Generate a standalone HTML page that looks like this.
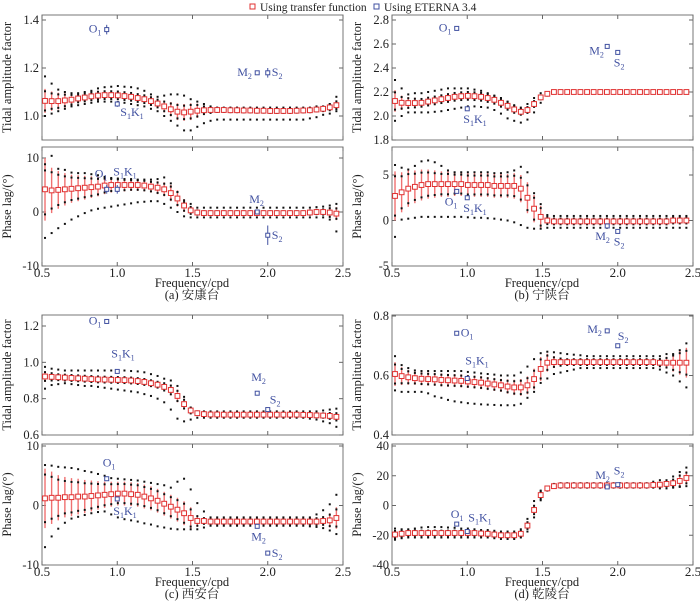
<!DOCTYPE html>
<html><head><meta charset="utf-8"><style>
body{margin:0;background:#fff}
svg{display:block;font-family:"Liberation Serif","Noto Serif CJK SC",serif}
</style></head><body>
<svg id="fig" width="700" height="605" viewBox="0 0 700 605" xmlns="http://www.w3.org/2000/svg">
<g>
<rect x="250" y="4" width="5" height="5" fill="none" stroke="#e03030" stroke-width="1"/>
<text x="260" y="11" font-size="11.5" fill="#222">Using transfer function</text>
<rect x="374" y="4" width="5" height="5" fill="none" stroke="#4050a0" stroke-width="1"/>
<text x="384" y="11" font-size="11.5" fill="#222">Using ETERNA 3.4</text>
</g>
</svg>
<script>
// frequency grid (cpd)
const freqs = [];
for (let i = 0; i < 45; i++) freqs.push(+(0.52 + 0.044 * i).toFixed(3));
const xTicks = [0.5, 1.0, 1.5, 2.0, 2.5];

// ---- (a) Ankang ----
const aAmpC = [1.063,1.062,1.062,1.065,1.068,1.073,1.077,1.082,1.085,1.087,1.087,1.086,1.083,1.080,1.075,1.070,1.062,1.052,1.040,1.028,1.018,1.015,1.018,1.022,1.024,1.025,1.025,1.025,1.024,1.024,1.023,1.023,1.022,1.022,1.021,1.021,1.021,1.021,1.022,1.023,1.024,1.027,1.030,1.036,1.045];
const aAmpE = [0.05,0.04,0.035,0.03,0.025,0.02,0.02,0.02,0.02,0.02,0.02,0.02,0.02,0.02,0.02,0.02,0.02,0.02,0.025,0.03,0.035,0.035,0.035,0.03,0.02,0.015,0.01,0.01,0.01,0.01,0.01,0.01,0.01,0.01,0.01,0.01,0.01,0.01,0.01,0.01,0.01,0.01,0.012,0.015,0.02];
const aAmpHi = [1.165,1.135,1.11,1.10,1.095,1.095,1.10,1.105,1.115,1.12,1.122,1.125,1.122,1.12,1.115,1.105,1.09,1.08,1.085,1.09,1.09,1.085,1.07,1.06,1.05,1.04,1.035,1.035,1.035,1.035,1.035,1.035,1.035,1.035,1.035,1.035,1.035,1.035,1.035,1.035,1.035,1.04,1.04,1.05,1.08];
const aAmpLo = [1.0,1.01,1.02,1.03,1.04,1.045,1.05,1.055,1.06,1.06,1.06,1.058,1.055,1.05,1.045,1.04,1.03,1.02,1.0,0.98,0.96,0.94,0.94,0.955,0.97,0.98,0.985,0.985,0.985,0.985,0.985,0.985,0.985,0.985,0.985,0.985,0.985,0.985,0.985,0.985,0.99,0.995,1.005,1.01,1.02];
const aPhC = [4.2,4.0,4.1,4.2,4.3,4.4,4.5,4.6,4.7,4.9,5.0,5.0,5.0,5.0,5.0,4.9,4.7,4.5,4.2,3.5,2.5,1.2,0.3,-0.1,-0.2,-0.2,-0.2,-0.2,-0.2,-0.2,-0.2,-0.2,-0.2,-0.2,-0.2,-0.2,-0.2,-0.2,-0.2,-0.2,-0.1,0.0,0.0,-0.1,-0.3];
const aPhE = [5.8,4.2,3.5,3.0,2.6,2.4,2.2,2.0,1.8,1.6,1.4,1.3,1.2,1.1,1.1,1.1,1.1,1.2,1.3,1.5,1.5,1.2,0.8,0.5,0.4,0.4,0.4,0.4,0.4,0.4,0.4,0.4,0.4,0.4,0.4,0.4,0.4,0.4,0.4,0.4,0.5,0.5,0.6,1.0,1.2];
const aPhHi = [7.7,10.4,8.0,7.8,7.3,7.2,7.2,7.0,6.8,6.5,6.3,6.2,6.1,6.1,6.0,6.0,6.0,6.1,6.4,5.3,3.7,1.8,1.5,0.8,0.8,0.8,0.8,0.8,0.8,0.8,0.8,0.8,0.8,0.8,0.8,0.8,0.8,0.8,0.8,0.8,0.8,0.9,1.0,1.2,1.5];
const aPhLo = [-4.8,-3.9,-3.0,-2.2,-1.4,-0.8,-0.2,0.3,0.6,0.8,1.0,1.2,1.4,1.6,1.8,1.9,2.0,2.0,1.5,0.8,0.0,-0.8,-1.0,-1.0,-1.0,-1.0,-1.0,-1.0,-1.0,-1.0,-1.0,-1.0,-1.0,-1.0,-1.0,-1.0,-1.0,-1.0,-1.0,-1.0,-1.0,-1.0,-1.0,-1.4,-3.6];

// ---- (b) Ningshan ----
const bAmpC = [2.125,2.11,2.108,2.108,2.11,2.12,2.13,2.14,2.15,2.16,2.165,2.168,2.165,2.16,2.15,2.135,2.11,2.085,2.055,2.035,2.05,2.1,2.155,2.185,2.2,2.2,2.2,2.2,2.2,2.2,2.2,2.2,2.2,2.2,2.2,2.2,2.2,2.2,2.2,2.2,2.2,2.2,2.2,2.2,2.2];
const bAmpE = [0.09,0.06,0.05,0.045,0.04,0.04,0.04,0.04,0.04,0.04,0.04,0.04,0.04,0.04,0.04,0.04,0.04,0.04,0.035,0.03,0.03,0.03,0.02,0.01,0.005,0,0,0,0,0,0,0,0,0,0,0,0,0,0,0,0,0,0,0,0];
const bAmpHi = [2.3,2.23,2.18,2.19,2.19,2.2,2.21,2.22,2.23,2.23,2.23,2.23,2.22,2.21,2.19,2.17,2.15,2.12,2.09,2.07,2.1,2.15,2.19,2.2,2.21,2.2,2.2,2.2,2.2,2.2,2.2,2.2,2.2,2.2,2.2,2.2,2.2,2.2,2.2,2.2,2.2,2.2,2.2,2.2,2.2];
const bAmpLo = [1.96,2.0,2.03,2.03,2.03,2.03,2.035,2.04,2.05,2.06,2.07,2.08,2.08,2.075,2.07,2.05,2.02,1.98,1.96,1.945,1.97,2.03,2.11,2.17,2.19,2.2,2.2,2.2,2.2,2.2,2.2,2.2,2.2,2.2,2.2,2.2,2.2,2.2,2.2,2.2,2.2,2.2,2.2,2.2,2.2];
const bPhC = [2.7,3.1,3.5,3.7,3.9,4.0,4.0,4.0,4.0,4.0,4.0,3.9,3.9,3.9,3.9,3.8,3.8,3.8,3.8,3.5,2.5,1.3,0.4,0.0,-0.1,-0.1,-0.1,-0.1,-0.1,-0.1,-0.1,-0.1,-0.1,-0.1,-0.1,-0.1,-0.1,-0.1,-0.1,-0.1,-0.1,-0.1,0.0,0.0,0.0];
const bPhE = [2.7,2.2,2.0,1.8,1.7,1.6,1.5,1.4,1.4,1.3,1.3,1.3,1.3,1.3,1.3,1.3,1.3,1.3,1.4,1.5,1.7,1.5,1.2,0.5,0.4,0.4,0.4,0.4,0.4,0.4,0.4,0.4,0.4,0.4,0.4,0.4,0.4,0.4,0.4,0.4,0.4,0.4,0.4,0.4,0.4];
const bPhHi = [6.1,5.8,5.6,6.0,6.5,6.6,6.4,6.0,5.5,5.3,5.3,5.3,5.3,5.3,5.3,5.2,5.2,5.3,5.5,5.9,5.3,3.0,1.8,0.6,0.5,0.5,0.5,0.5,0.5,0.5,0.5,0.5,0.5,0.5,0.5,0.5,0.5,0.5,0.5,0.5,0.5,0.5,0.5,0.5,0.5];
const bPhLo = [-1.8,0.1,0.2,0.3,0.4,0.4,0.4,0.4,0.4,0.4,0.4,0.35,0.3,0.3,0.25,0.2,0.1,0.0,-0.2,-0.5,-0.8,-0.9,-0.9,-0.8,-0.8,-0.8,-0.8,-0.8,-0.8,-0.8,-0.8,-0.8,-0.8,-0.8,-0.8,-0.8,-0.8,-0.8,-0.8,-0.8,-0.8,-0.8,-0.8,-0.8,-0.8];

// ---- (c) Xi'an ----
const cAmpC = [0.922,0.92,0.918,0.916,0.914,0.912,0.91,0.908,0.906,0.905,0.904,0.903,0.902,0.9,0.897,0.892,0.885,0.877,0.865,0.848,0.815,0.77,0.735,0.72,0.715,0.713,0.713,0.712,0.712,0.712,0.712,0.712,0.712,0.712,0.712,0.712,0.712,0.712,0.712,0.711,0.71,0.708,0.707,0.705,0.7];
const cAmpE = [0.03,0.025,0.02,0.02,0.02,0.02,0.02,0.02,0.02,0.02,0.02,0.02,0.02,0.02,0.02,0.02,0.02,0.02,0.025,0.03,0.035,0.03,0.02,0.01,0.01,0.01,0.01,0.01,0.01,0.01,0.01,0.01,0.01,0.01,0.01,0.01,0.01,0.01,0.01,0.01,0.01,0.012,0.015,0.02,0.025];
const cAmpHi = [0.975,0.965,0.96,0.955,0.955,0.955,0.955,0.955,0.955,0.955,0.955,0.955,0.955,0.952,0.95,0.945,0.935,0.925,0.91,0.9,0.87,0.81,0.75,0.73,0.73,0.73,0.73,0.73,0.73,0.73,0.73,0.73,0.73,0.73,0.73,0.73,0.73,0.73,0.73,0.73,0.73,0.73,0.735,0.74,0.745];
const cAmpLo = [0.855,0.875,0.88,0.885,0.88,0.875,0.87,0.87,0.865,0.86,0.855,0.85,0.845,0.84,0.835,0.825,0.815,0.8,0.78,0.74,0.69,0.675,0.685,0.695,0.695,0.695,0.695,0.695,0.695,0.695,0.695,0.695,0.695,0.695,0.695,0.695,0.695,0.695,0.695,0.695,0.69,0.685,0.675,0.665,0.645];
const cPhC = [1.2,1.3,1.3,1.4,1.4,1.5,1.5,1.6,1.7,1.8,1.9,2.0,2.0,1.9,1.8,1.5,1.2,0.8,0.3,-0.2,-0.7,-1.3,-2.1,-2.6,-2.6,-2.7,-2.7,-2.7,-2.7,-2.7,-2.7,-2.7,-2.7,-2.7,-2.7,-2.7,-2.7,-2.7,-2.7,-2.7,-2.7,-2.7,-2.6,-2.5,-2.1];
const cPhE = [5.0,4.4,3.8,3.4,3.2,3.0,2.8,2.6,2.4,2.2,2.1,2.0,2.0,2.0,2.0,2.0,2.0,2.0,2.0,2.0,2.0,2.0,1.8,1.0,0.6,0.5,0.5,0.5,0.5,0.5,0.5,0.5,0.5,0.5,0.5,0.5,0.5,0.5,0.5,0.5,0.6,0.7,0.8,1.2,1.8];
const cPhHi = [6.8,6.7,6.5,6.4,6.3,6.1,5.8,5.6,5.3,5.0,4.6,4.5,4.4,4.3,4.2,4.0,3.8,3.6,3.4,3.0,4.0,4.5,2.7,0.4,-1.0,-2.0,-2.0,-2.0,-2.0,-2.0,-2.0,-2.0,-2.0,-2.0,-2.0,-2.0,-2.0,-2.0,-2.0,-2.0,-2.0,-1.5,-0.8,0.2,1.8];
const cPhLo = [-7.0,-5.2,-3.9,-2.9,-2.2,-1.9,-1.6,-1.3,-1.1,-1.0,-1.5,-2.0,-2.3,-2.5,-2.7,-3.0,-3.2,-3.5,-3.7,-3.9,-4.0,-4.0,-4.0,-4.0,-3.7,-3.4,-3.4,-3.4,-3.4,-3.4,-3.4,-3.4,-3.4,-3.4,-3.4,-3.4,-3.4,-3.4,-3.4,-3.4,-3.5,-3.6,-3.8,-4.2,-4.8];

// ---- (d) Qianling ----
const dAmpC = [0.605,0.598,0.594,0.591,0.589,0.588,0.587,0.585,0.584,0.583,0.582,0.580,0.578,0.576,0.573,0.570,0.567,0.563,0.560,0.560,0.567,0.588,0.622,0.643,0.645,0.645,0.645,0.645,0.645,0.645,0.645,0.645,0.645,0.645,0.645,0.645,0.645,0.645,0.645,0.645,0.643,0.643,0.643,0.643,0.643];
const dAmpE = [0.04,0.03,0.025,0.022,0.022,0.022,0.022,0.022,0.022,0.022,0.022,0.022,0.022,0.022,0.022,0.022,0.022,0.024,0.026,0.028,0.03,0.035,0.04,0.03,0.02,0.015,0.012,0.012,0.012,0.012,0.012,0.012,0.012,0.012,0.012,0.012,0.012,0.012,0.012,0.012,0.015,0.02,0.03,0.04,0.05];
const dAmpHi = [0.665,0.635,0.625,0.617,0.615,0.615,0.615,0.615,0.615,0.615,0.615,0.612,0.61,0.607,0.605,0.603,0.6,0.6,0.6,0.61,0.63,0.655,0.675,0.68,0.678,0.675,0.672,0.67,0.668,0.665,0.665,0.665,0.665,0.665,0.665,0.665,0.665,0.665,0.665,0.665,0.665,0.672,0.672,0.685,0.708];
const dAmpLo = [0.55,0.545,0.545,0.545,0.545,0.54,0.53,0.525,0.518,0.513,0.51,0.507,0.505,0.503,0.502,0.501,0.5,0.5,0.5,0.505,0.525,0.545,0.575,0.59,0.605,0.61,0.615,0.62,0.625,0.625,0.625,0.625,0.625,0.625,0.625,0.625,0.625,0.625,0.625,0.625,0.62,0.61,0.6,0.58,0.56];
const dPhC = [-19.5,-19,-18.5,-18.5,-18.5,-18.5,-18.5,-18.5,-18.5,-18.5,-18.5,-18.5,-18.5,-18.8,-19,-19.5,-20,-20,-20,-19,-13.5,-3,7,11.5,13,13.5,13.5,13.5,13.5,13.5,13.5,13.5,13.5,13.5,13.5,13.5,13.5,13.5,13.5,13.8,14,14.5,15,16.5,18.5];
const dPhE = [3,2.5,2.2,2,2,2,2,2,2,2,2,2,2,2,2,2,2,2,2,2.3,2.8,3.5,3,1.5,1,1,1,1,1,1,1,1,1,1,1,1,1,1,1,1.2,1.5,2,3,4.5,4.5];
const dPhHi = [-15.5,-16,-16,-15.5,-14.8,-14.5,-14.5,-14.5,-14.8,-15,-15.5,-15.5,-16,-16.5,-16.5,-17,-17.5,-17.5,-17.5,-16,-9,3,10,12.5,14.5,15,15,15,15,15,15,15,15,15,15,15,15,15,15,16,17,17,19.5,22.5,25.5];
const dPhLo = [-23,-22,-21.5,-21.5,-21.5,-21.5,-21.5,-21.5,-21.5,-21.5,-21.5,-21.5,-21.5,-21.5,-21.5,-22,-22.5,-22.5,-22.5,-21.5,-17.5,-8,3.5,10,12,12,12,12,12,12,12,12,12,12,12,12,12,12,12,12,11.5,11.5,12,12.5,13];

// ETERNA 3.4 estimates: [freq, value, errorbar, label]
const aAmpEt = [[0.93,1.36,0.02,"O1"],[1.0,1.05,0.012,"S1K1"],[1.93,1.18,0,"M2"],[2.0,1.18,0.02,"S2"]];
const aPhEt = [[0.93,4.2,0.8,"O1"],[1.0,4.2,0.8,"S1K1"],[1.93,0.0,0,"M2"],[2.0,-4.3,1.8,"S2"]];
const bAmpEt = [[0.93,2.73,0,"O1"],[1.0,2.06,0,"S1K1"],[1.93,2.58,0,"M2"],[2.0,2.53,0,"S2"]];
const bPhEt = [[0.93,3.2,0,"O1"],[1.0,2.5,0,"S1K1"],[1.93,-0.6,0,"M2"],[2.0,-1.2,0,"S2"]];
const cAmpEt = [[0.93,1.225,0,"O1"],[1.0,0.95,0,"S1K1"],[1.93,0.83,0,"M2"],[2.0,0.74,0,"S2"]];
const cPhEt = [[0.93,4.5,0,"O1"],[1.0,1.1,0,"S1K1"],[1.93,-3.5,0,"M2"],[2.0,-8.0,0,"S2"]];
const dAmpEt = [[0.93,0.742,0,"O1"],[1.0,0.59,0,"S1K1"],[1.93,0.75,0,"M2"],[2.0,0.70,0,"S2"]];
const dPhEt = [[0.93,-12.5,0,"O1"],[1.0,-17.5,0,"S1K1"],[1.93,12.5,0,"M2"],[2.0,14.0,0,"S2"]];

const yTicksAAmp=[1.0,1.2,1.4], yTicksAPh=[-10,0,10];
const yTicksBAmp=[1.8,2.0,2.2,2.4,2.6,2.8], yTicksBPh=[-5,0,5];
const yTicksCAmp=[0.6,0.8,1.0,1.2], yTicksCPh=[-10,0,10];
const yTicksDAmp=[0.4,0.6,0.8], yTicksDPh=[-40,-20,0,20,40];

const NS="http://www.w3.org/2000/svg";
const svg=document.getElementById('fig');
function el(tag,attrs,parent){const e=document.createElementNS(NS,tag);for(const k in attrs)e.setAttribute(k,attrs[k]);(parent||svg).appendChild(e);return e;}
function lin(v0,p0,v1,p1){return v=>p0+(v-v0)*(p1-p0)/(v1-v0);}
function fmt(v,dec){return v.toFixed(dec);}
const labOff={
 a:{O1:[-18,3],S1K1:[3,12],M2:[-20,3],S2:[4,3]},
 aP:{O1:[-12,-12],S1K1:[-4,-14],M2:[-8,-9],S2:[4,4]},
 b:{O1:[-18,3],S1K1:[-4,14],M2:[-18,8],S2:[-4,14]},
 bP:{O1:[-12,14],S1K1:[-4,14],M2:[-12,14],S2:[-4,14]},
 c:{O1:[-18,3],S1K1:[-6,-14],M2:[-6,-12],S2:[2,-6]},
 cP:{O1:[-4,-12],S1K1:[-4,16],M2:[-6,14],S2:[4,4]},
 d:{O1:[4,3],S1K1:[-2,-14],M2:[-20,2],S2:[0,-6]},
 dP:{O1:[-6,-6],S1K1:[1,-10],M2:[-12,-8],S2:[-4,-10]}
};
function label(g,x,y,txt,name){
  const t=el('text',{x:x,y:y,'font-size':12,fill:'#4050a0'},g);
  
  
  const parts = txt==="S1K1"?[["S",""],["1","s"],["K",""],["1","s"]]:[[txt[0],""],[txt.slice(1),"s"]];
  parts.forEach(p=>{const s=el('tspan',{},t);s.textContent=p[0];if(p[1]){s.setAttribute('font-size','8');s.setAttribute('dy','3');}else if(t.childNodes.length>1){s.setAttribute('dy','-3');}});
}
function plot(name,x0,x1,top,bot,yv0,yp0,yv1,yp1,yTicks,dec,C,E,Hi,Lo,Et,offs,showX,yTitle,titleX){
  const g=el('g',{});
  
  
  const X=lin(0.5,x0,2.5,x1), Y=lin(yv0,yp0,yv1,yp1);
  const fr=el('rect',{x:x0,y:top,width:x1-x0,height:bot-top,fill:'none',stroke:'#777','stroke-width':1},g);
  
  
  yTicks.forEach(v=>{
    el('line',{x1:x0,x2:x0+4,y1:Y(v),y2:Y(v),stroke:'#666'},g);
    el('line',{x1:x1,x2:x1-4,y1:Y(v),y2:Y(v),stroke:'#666'},g);
    const t=el('text',{x:x0-3,y:Y(v)+4,'font-size':12.5,'text-anchor':'end',fill:'#222'},g);
    
    
    t.textContent=v<0?'-'+fmt(-v,dec):fmt(v,dec);
  });
  xTicks.forEach(v=>{
    el('line',{x1:X(v),x2:X(v),y1:bot,y2:bot-4,stroke:'#666'},g);
    el('line',{x1:X(v),x2:X(v),y1:top,y2:top+4,stroke:'#666'},g);
    if(showX){const t=el('text',{x:X(v),y:bot+11,'font-size':13,'text-anchor':'middle',fill:'#222'},g);
      
      
      t.textContent=v.toFixed(1);}
  });
  const yt=el('text',{x:titleX,y:(top+bot)/2,'font-size':12.5,'text-anchor':'middle',fill:'#222',transform:`rotate(-90 ${titleX} ${(top+bot)/2})`},g);
  
  
  yt.textContent=yTitle;
  freqs.forEach((f,i)=>{
    const x=X(f);
    if(E[i]>0){const b=el('line',{x1:x,x2:x,y1:Y(C[i]+E[i]),y2:Y(C[i]-E[i]),stroke:'#f07070','stroke-width':1.4},g);
      
      }
    const ds=[Hi[i],Lo[i],C[i]+E[i]*0.8,C[i]-E[i]*0.8];
    ds.forEach(v=>{const d=el('rect',{x:x-1,y:Y(v)-1,width:2,height:2,fill:'#111'},g);
      
      });
    const m=el('rect',{x:x-2.4,y:Y(C[i])-2.4,width:4.8,height:4.8,fill:'#fff',stroke:'#e03030','stroke-width':1},g);
    
    
  });
  Et.forEach(p=>{
    const x=X(p[0]),y=Y(p[1]);
    if(p[2]>0){const b=el('line',{x1:x,x2:x,y1:Y(p[1]+p[2]),y2:Y(p[1]-p[2]),stroke:'#4050a0','stroke-width':1},g);
      
      }
    const m=el('rect',{x:x-2,y:y-2,width:4,height:4,fill:'#fff',stroke:'#4050a0','stroke-width':1},g);
    
    
    const o=offs[p[3]];
    label(g,x+o[0],y+o[1],p[3],'eterna-label-'+p[3].toLowerCase());
  });
  return g;
}
function footer(cx,y,cap){
  const t=el('text',{x:cx,y:y,'font-size':12.5,'text-anchor':'middle',fill:'#222'});
  
  
  t.textContent='Frequency/cpd';
  const c=el('text',{x:cx,y:y+12,'font-size':12.5,'text-anchor':'middle',fill:'#222'});
  
  
  c.textContent=cap;
}
plot('panel-a-amplitude',42,343,15,140,1.0,116,1.4,20,yTicksAAmp,1,aAmpC,aAmpE,aAmpHi,aAmpLo,aAmpEt,labOff.a,false,'Tidal amplitude factor',11);
plot('panel-a-phase',42,343,147,266,-10,266,10,158,yTicksAPh,0,aPhC,aPhE,aPhHi,aPhLo,aPhEt,labOff.aP,true,'Phase lag/(°)',11);
footer(192,287,'(a) 安康台');
plot('panel-b-amplitude',392,693,15,140,1.8,140,2.8,20,yTicksBAmp,1,bAmpC,bAmpE,bAmpHi,bAmpLo,bAmpEt,labOff.b,false,'Tidal amplitude factor',361);
plot('panel-b-phase',392,693,147,266,-5,266,5,175,yTicksBPh,0,bPhC,bPhE,bPhHi,bPhLo,bPhEt,labOff.bP,true,'Phase lag/(°)',361);
footer(542,287,'(b) 宁陕台');
plot('panel-c-amplitude',42,343,315,435,0.6,435,1.2,326,yTicksCAmp,1,cAmpC,cAmpE,cAmpHi,cAmpLo,cAmpEt,labOff.c,false,'Tidal amplitude factor',11);
plot('panel-c-phase',42,343,444,565,-10,565,10,446,yTicksCPh,0,cPhC,cPhE,cPhHi,cPhLo,cPhEt,labOff.cP,true,'Phase lag/(°)',11);
footer(192,586,'(c) 西安台');
plot('panel-d-amplitude',392,693,315,435,0.4,435,0.8,316,yTicksDAmp,1,dAmpC,dAmpE,dAmpHi,dAmpLo,dAmpEt,labOff.d,false,'Tidal amplitude factor',361);
plot('panel-d-phase',392,693,444,565,-40,565,40,446,yTicksDPh,0,dPhC,dPhE,dPhHi,dPhLo,dPhEt,labOff.dP,true,'Phase lag/(°)',361);
footer(542,586,'(d) 乾陵台');
</script>
</body></html>
